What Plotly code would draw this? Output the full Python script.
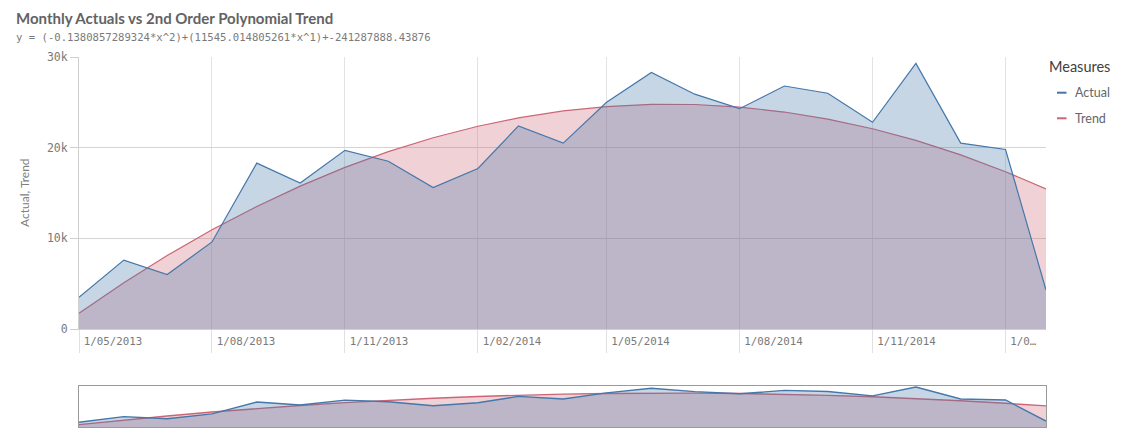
import plotly.graph_objects as go

# ---- data ----
months = ["2013-05-01", "2013-06-01", "2013-07-01", "2013-08-01", "2013-09-01", "2013-10-01",
          "2013-11-01", "2013-12-01", "2014-01-01", "2014-02-01", "2014-03-01", "2014-04-01",
          "2014-05-01", "2014-06-01", "2014-07-01", "2014-08-01", "2014-09-01", "2014-10-01",
          "2014-11-01", "2014-12-01", "2015-01-01", "2015-02-01", "2015-03-01"]
actual = [3500, 7600, 6000, 9600, 18300, 16100, 19700, 18500, 15600, 17700, 22400, 20500,
          25000, 28300, 25900, 24300, 26800, 26000, 22800, 29300, 20500, 19800, 4300]
trend = [1750, 5090, 8100, 10940, 13520, 15760, 17820, 19560, 21090, 22360, 23280, 24050,
         24530, 24780, 24760, 24480, 23930, 23150, 22090, 20800, 19210, 17350, 15450]
tick_dates = ["2013-05-01", "2013-08-01", "2013-11-01", "2014-02-01", "2014-05-01",
              "2014-08-01", "2014-11-01", "2015-02-01"]
tick_labels = ["1/05/2013", "1/08/2013", "1/11/2013", "1/02/2014", "1/05/2014",
               "1/08/2014", "1/11/2014", "1/0…"]
title = "Monthly Actuals vs 2nd Order Polynomial Trend"
subtitle = "y = (-0.1380857289324*x^2)+(11545.014805261*x^1)+-241287888.43876"

BLUE = "#4477aa"
RED = "#cc6677"
BLUE_FILL = "rgba(68,119,170,0.30)"
RED_FILL = "rgba(204,102,119,0.30)"

W, H = 1121, 439
L, R, T, B = 79, 75, 57, 12
PW, PH = W - L - R, H - T - B


def px2x(px):
    return (px - L) / PW


def py2y(py):
    return (H - B - py) / PH


main_top = 57
main_bot = 329
mini_top = 386
mini_bot = 427

# pad labels (monospace font) so every label is left-aligned next to its tick
label_len = max(len(t) for t in tick_labels)
tick_text = [t + "\u00a0" * (label_len - len(t)) for t in tick_labels]

fig = go.Figure()

for xa, ya, lw in [("x", "y", 1.2), ("x2", "y2", 1.4)]:
    fig.add_trace(go.Scatter(x=months, y=trend, mode="lines", fill="tozeroy",
                             fillcolor=RED_FILL, line=dict(color=RED, width=lw),
                             xaxis=xa, yaxis=ya, showlegend=False, name="Trend"))
    fig.add_trace(go.Scatter(x=months, y=actual, mode="lines", fill="tozeroy",
                             fillcolor=BLUE_FILL, line=dict(color=BLUE, width=lw),
                             xaxis=xa, yaxis=ya, showlegend=False, name="Actual"))

xrange = [months[0], months[-1]]

fig.update_layout(
    width=W, height=H,
    margin=dict(l=L, r=R, t=T, b=B, autoexpand=False),
    paper_bgcolor="white", plot_bgcolor="white",
    showlegend=False,
    font=dict(family="Lato, sans-serif", color="#737373"),
    xaxis=dict(
        domain=[0, 1], anchor="y", range=xrange, type="date", automargin=False,
        tickvals=tick_dates, ticktext=tick_text,
        showgrid=True, gridcolor="#e3e3e3", gridwidth=1,
        ticks="outside", ticklen=23, tickcolor="#e0e0e0", tickwidth=1,
        ticklabelstandoff=-21, ticklabelshift=34,
        tickfont=dict(family="DejaVu Sans Mono", size=10.8, color="#7a7a7a"),
        showline=True, linecolor="#cfcfcf", linewidth=1, zeroline=False,
    ),
    yaxis=dict(
        domain=[py2y(main_bot), py2y(main_top)], anchor="x", automargin=False,
        range=[0, 30000], tickvals=[0, 10000, 20000, 30000], tickformat="~s",
        showgrid=True, gridcolor="#d4d4d4", gridwidth=1,
        ticks="outside", ticklen=8, tickcolor="#cfcfcf",
        tickfont=dict(family="DejaVu Sans Mono", size=11.5, color="#7a7a7a"),
        showline=True, linecolor="#cfcfcf", linewidth=1, zeroline=False,
    ),
    xaxis2=dict(
        domain=[0, 1], anchor="y2", range=xrange, type="date", automargin=False,
        showticklabels=False, showgrid=False, ticks="",
        showline=True, mirror=True, linecolor="#9a9a9a", linewidth=1.2, zeroline=False,
    ),
    yaxis2=dict(
        domain=[0, py2y(mini_top)], anchor="x2", range=[0, 30000], automargin=False,
        showticklabels=False, showgrid=False, ticks="",
        showline=True, mirror=True, linecolor="#9a9a9a", linewidth=1.2, zeroline=False,
    ),
)

ann = []
ann.append(dict(text="<b>" + title + "</b>", x=px2x(14), y=py2y(18), xref="paper", yref="paper",
                xanchor="left", yanchor="middle", showarrow=False,
                font=dict(family="Lato", size=15, color="#636363")))
ann.append(dict(text=subtitle, x=px2x(14), y=py2y(37), xref="paper", yref="paper",
                xanchor="left", yanchor="middle", showarrow=False,
                font=dict(family="DejaVu Sans Mono", size=10.6, color="#7a7a7a")))
ann.append(dict(text="Actual, Trend", x=px2x(24), y=py2y(193), xref="paper", yref="paper",
                xanchor="center", yanchor="middle", textangle=-90, showarrow=False,
                font=dict(family="Lato", size=12, color="#808080")))
ann.append(dict(text="Measures", x=px2x(1047), y=py2y(67), xref="paper", yref="paper",
                xanchor="left", yanchor="middle", showarrow=False,
                font=dict(family="Lato", size=14.5, color="#404040")))
shapes = []
for name, color, py in [("Actual", BLUE, 92.7), ("Trend", RED, 118.3)]:
    ann.append(dict(text=name, x=px2x(1073), y=py2y(py), xref="paper", yref="paper",
                    xanchor="left", yanchor="middle", showarrow=False,
                    font=dict(family="Lato", size=12.5, color="#666666")))
    shapes.append(dict(type="line", xref="paper", yref="paper",
                       x0=px2x(1057), x1=px2x(1066.5), y0=py2y(py), y1=py2y(py),
                       line=dict(color=color, width=2)))

fig.update_layout(annotations=ann, shapes=shapes)

fig.write_html("out.html")
